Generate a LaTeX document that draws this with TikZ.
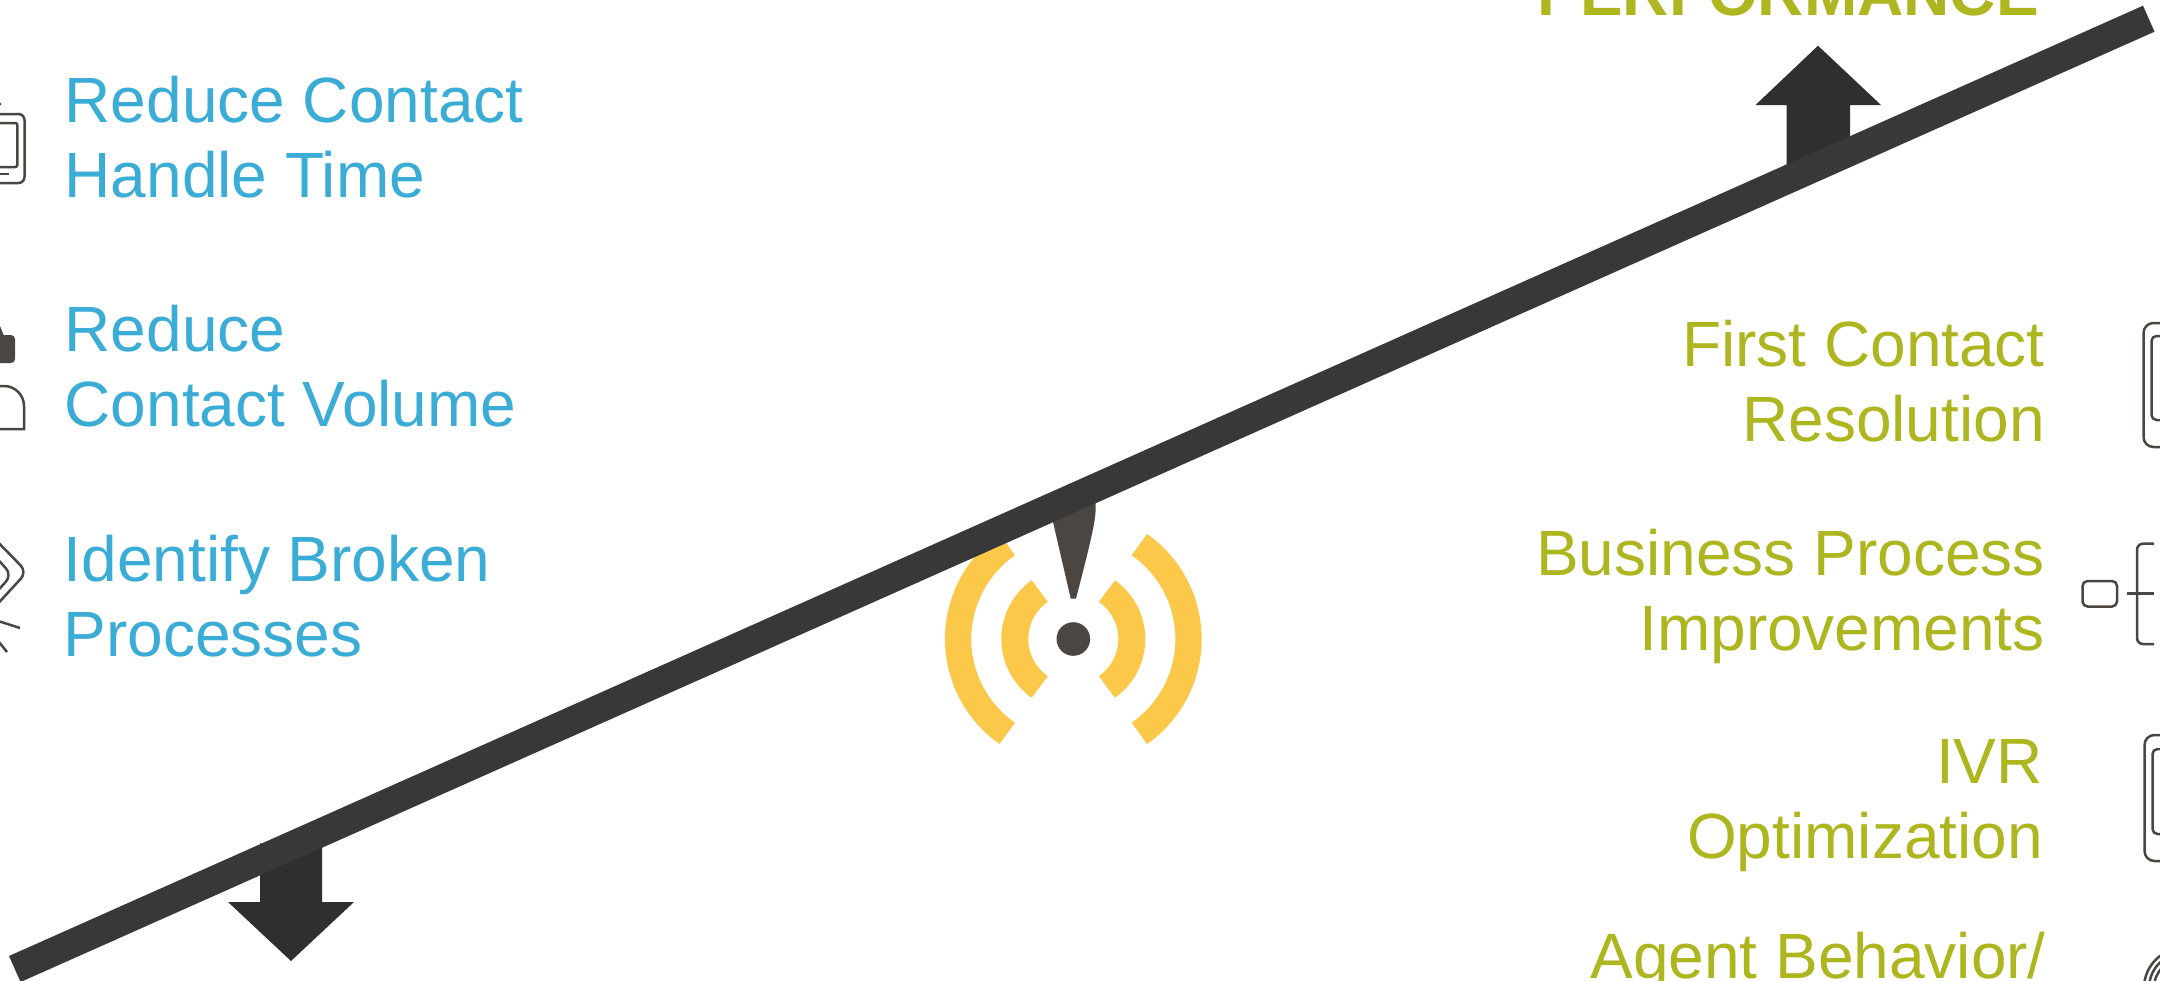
\documentclass[tikz,border=0pt]{standalone}
\usepackage{fontspec}
\setmainfont{Liberation Sans}
\definecolor{cblue}{RGB}{58,172,214}
\definecolor{cgreen}{RGB}{173,181,31}
\definecolor{cbeam}{RGB}{56,56,56}
\definecolor{carrow}{RGB}{47,47,47}
\definecolor{cicon}{RGB}{75,70,66}
\definecolor{cwave}{RGB}{252,200,74}
\tikzset{
  tilt/.style={x=1pt,y=-1pt},
  lefttext/.style={text=cblue,anchor=base west,align=left,inner sep=0pt,font=\fontsize{64}{74.4}\selectfont},
  righttext/.style={text=cgreen,anchor=base east,align=right,inner sep=0pt,font=\fontsize{64}{74.4}\selectfont},
  icon/.style={draw=cicon,line width=2.5pt}
}

\begin{document}
\begin{tikzpicture}[tilt]
    \useasboundingbox (0,0) rectangle (2160,980);
    \clip (0,0) rectangle (2160,980);
    % antenna
    \foreach \r/\w in {58.5/27,115.2/26.3} {
      \draw[cwave,line width=\w pt] (1073.3,639) ++(-55:\r) arc[start angle=-55,end angle=55,radius=\r,y=1pt];
      \draw[cwave,line width=\w pt] (1073.3,639) ++(125:\r) arc[start angle=125,end angle=235,radius=\r,y=1pt];
    }
    \fill[cicon] (1073.3,639) circle[radius=16.8];
    \fill[cicon] (1070.7,598.5) -- (1053,522) -- (1052,505) -- (1095.5,500) -- (1095.5,512)
      .. controls (1095,525) and (1086,560) .. (1076,598.5) -- cycle;
    % arrows under the beam
    \fill[carrow] (1786.6,165) -- (1786.6,105) -- (1755.5,105) -- (1818,45.7) -- (1881,105) -- (1850,105) -- (1850,137) -- cycle;
    \fill[carrow] (260,843) -- (264,846) -- (322,846) -- (322,902) -- (354,902) -- (291,961) -- (228,902) -- (260,902) -- cycle;
    % beam
    \fill[cbeam] (9,956) -- (2143,5.7) -- (2154.5,31.7) -- (20.6,982) -- cycle;
    % left icons
    \draw[icon,rounded corners=6] (-10,114) -- (24.5,114) -- (24.5,183) -- (-10,183);
    \draw[icon,rounded corners=2] (-10,123) -- (17.3,123) -- (17.3,167) -- (-10,167);
    \draw[icon] (-5,174) -- (9,174);
    \fill[cicon] (0,104) circle[radius=1.5];
    \fill[cicon,rounded corners=4] (-10,335) -- (0,335) -- (15,335) -- (15,363) -- (-10,363) -- cycle;
    \fill[cicon] (-3,335.5) -- (0,326) -- (4,336) -- cycle;
    \draw[icon,rounded corners=20] (-5,386) -- (24,386) [sharp corners] -- (24,429) -- (-5,429);
    \draw[icon,rounded corners=9] (-8,536) -- (27,572) -- (-8,610);
    \draw[icon,rounded corners=9] (-8,553) -- (12,575) -- (-8,597);
    \draw[icon] (-5,620) -- (20,628);
    \draw[icon] (-5,637) -- (7,652);
    % right icons
    \draw[icon,rounded corners=10] (2170,323) -- (2143.5,323) -- (2143.5,447) -- (2170,447);
    \draw[icon,rounded corners=5] (2170,336) -- (2151.5,336) -- (2151.5,420) -- (2170,420);
    \draw[icon,rounded corners=5] (2082.5,581) rectangle (2117,606.5);
    \draw[icon] (2126.7,593.6) -- (2154,593.6);
    \draw[icon,rounded corners=6] (2154,543.7) -- (2137,543.7) -- (2137,644) -- (2154,644);
    \draw[icon,rounded corners=10] (2170,735) -- (2144.5,735) -- (2144.5,861) -- (2170,861);
    \draw[icon,rounded corners=5] (2170,749) -- (2152.5,749) -- (2152.5,834) -- (2170,834);
    \foreach \r in {40,35,30} \draw[icon] (2184,988) circle[radius=\r];
    % labels
    \node[lefttext] (handle) at (64.5,197) {Reduce Contact\\Handle Time};
    \node[lefttext] (volume) at (64.5,426) {Reduce\\Contact Volume};
    \node[lefttext] (broken) at (63.5,656) {Identify Broken\\Processes};
    \node[righttext,font=\fontsize{64}{74.4}\selectfont\bfseries] (perf) at (2039,15.3) {PERFORMANCE};
    \node[righttext] (fcr) at (2045,441) {First Contact\\Resolution};
    \node[righttext] (process) at (2045,650) {Business Process\\Improvements};
    \node[righttext] (ivr) at (2043,858) {IVR\\Optimization};
    \node[righttext] (agent) at (2046,978) {Agent Behavior/};
\end{tikzpicture}
\end{document}
